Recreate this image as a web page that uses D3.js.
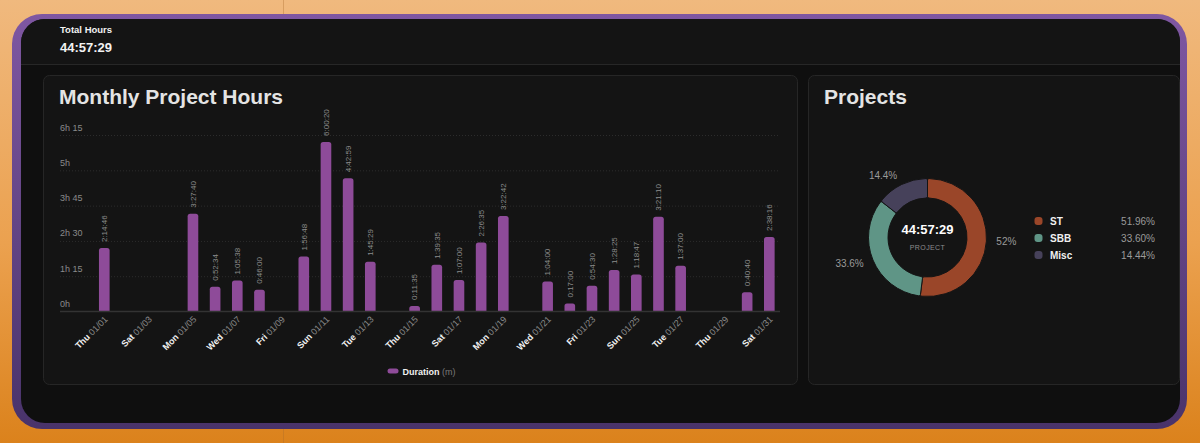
<!DOCTYPE html>
<html>
<head>
<meta charset="utf-8">
<script src="https://cdn.jsdelivr.net/npm/d3@7"></script>
<style>
  html, body { margin: 0; padding: 0; background: #e9a458; }
  svg { display: block; font-family: "Liberation Sans", Arial, sans-serif; }
</style>
</head>
<body>
<div id="chart"></div>
<script>

// data

let days = ["01/01","01/02","01/03","01/04","01/05","01/06","01/07","01/08","01/09","01/10",
  "01/11","01/12","01/13","01/14","01/15","01/16","01/17","01/18","01/19","01/20",
  "01/21","01/22","01/23","01/24","01/25","01/26","01/27","01/28","01/29","01/30","01/31"];

let weekdays = ["Thu","Fri","Sat","Sun","Mon","Tue","Wed","Thu","Fri","Sat",
  "Sun","Mon","Tue","Wed","Thu","Fri","Sat","Sun","Mon","Tue",
  "Wed","Thu","Fri","Sat","Sun","Mon","Tue","Wed","Thu","Fri","Sat"];

// duration per day (h:mm:ss), null = no bar
let durations = ["2:14:46", null, null, null, "3:27:40", "0:52:34", "1:05:38", "0:46:00", null, "1:56:48",
  "6:00:20", "4:42:59", "1:45:29", null, "0:11:35", "1:39:35", "1:07:00", "2:26:35", "3:22:42", null,
  "1:04:00", "0:17:00", "0:54:30", "1:28:25", "1:18:47", "3:21:10", "1:37:00", null, null, "0:40:40", "2:38:16"];

let yTicks = [0, 75, 150, 225, 300, 375];
let yTickLabels = ["0h", "1h 15", "2h 30", "3h 45", "5h", "6h 15"];

let projects = ["ST", "SBB", "Misc"];
let projectShares = [51.96, 33.60, 14.44];
let projectLabels = ["52%", "33.6%", "14.4%"];
let projectColors = ["#9a4629", "#5f9586", "#46415a"];

let totalHours = "44:57:29";

// helpers

function toMinutes(s) {
  let p = s.split(":").map(Number);
  return p[0] * 60 + p[1] + p[2] / 60;
}

let bars = days.map((d, i) => ({ day: d, wd: weekdays[i], label: durations[i],
  minutes: durations[i] ? toMinutes(durations[i]) : null }));

let W = 1200, H = 443;

let svg = d3.select("#chart")
  .append("svg")
    .attr("width", W)
    .attr("height", H);

let defs = svg.append("defs");

let bg = defs.append("linearGradient").attr("id", "bg").attr("x1", 0).attr("y1", 0).attr("x2", 0).attr("y2", 1);
bg.append("stop").attr("offset", "0%").attr("stop-color", "#f0b97e");
bg.append("stop").attr("offset", "55%").attr("stop-color", "#eba14f");
bg.append("stop").attr("offset", "100%").attr("stop-color", "#db821c");

let frame = defs.append("linearGradient").attr("id", "frame").attr("x1", 0).attr("y1", 0).attr("x2", 0).attr("y2", 1);
frame.append("stop").attr("offset", "0%").attr("stop-color", "#7f57a2");
frame.append("stop").attr("offset", "100%").attr("stop-color", "#49336a");

// page background

svg.append("rect").attr("width", W).attr("height", H).attr("fill", "url(#bg)");
svg.append("line")
  .attr("x1", 283.5).attr("x2", 283.5).attr("y1", 0).attr("y2", H)
  .attr("stroke", "#a86a2a").attr("stroke-opacity", 0.35);

// purple frame and dark panel

svg.append("rect")
  .attr("x", 12).attr("y", 14).attr("width", 1175).attr("height", 415)
  .attr("rx", 30).attr("fill", "url(#frame)");

svg.append("rect")
  .attr("x", 21).attr("y", 19).attr("width", 1159).attr("height", 404)
  .attr("rx", 24).attr("fill", "#0f0f0f");

svg.append("path")
  .attr("d", "M21,64 V43 A24,24 0 0 1 45,19 H1158 A22,22 0 0 1 1180,41 V64 Z")
  .attr("fill", "#141414");

svg.append("line")
  .attr("x1", 21).attr("x2", 1180).attr("y1", 64.5).attr("y2", 64.5)
  .attr("stroke", "#272727");

// header

svg.append("text")
  .attr("x", 60).attr("y", 32.5)
  .style("font-size", "9.5px").style("font-weight", "bold")
  .attr("fill", "#f2f2f2")
  .text("Total Hours");

svg.append("text")
  .attr("x", 60).attr("y", 51.5)
  .style("font-size", "13px").style("font-weight", "bold")
  .attr("fill", "#f2f2f2")
  .text(totalHours);

// cards

svg.append("rect")
  .attr("x", 43.5).attr("y", 75.5).attr("width", 754).attr("height", 309)
  .attr("rx", 6).attr("fill", "#141414").attr("stroke", "#262626");

svg.append("rect")
  .attr("x", 808.5).attr("y", 75.5).attr("width", 371).attr("height", 309)
  .attr("rx", 6).attr("fill", "#141414").attr("stroke", "#262626");

svg.append("text")
  .attr("x", 59).attr("y", 104)
  .style("font-size", "21px").style("font-weight", "bold")
  .attr("fill", "#e4e4e4")
  .text("Monthly Project Hours");

svg.append("text")
  .attr("x", 824).attr("y", 104)
  .style("font-size", "21px").style("font-weight", "bold")
  .attr("fill", "#e4e4e4")
  .text("Projects");

// ---- bar chart ----

let x = d3.scaleBand()
  .domain(days)
  .range([93.2, 780.4])
  .paddingInner(0.52)
  .paddingOuter(0.26);

let y = d3.scaleLinear()
  .domain([0, 375])
  .range([311.5, 135]);

// grid lines (dotted)

svg.selectAll(".ygrid")
  .data(yTicks.slice(1))
  .join("line")
  .attr("class", "ygrid")
  .attr("x1", 60).attr("x2", 780)
  .attr("y1", d => y(d) + 0.5).attr("y2", d => y(d) + 0.5)
  .attr("stroke", "#2c2c2c")
  .attr("stroke-dasharray", "1,2");

// y axis labels sit above their line

let yAxis = svg.append("g")
  .attr("transform", "translate(60,0)")
  .call(d3.axisRight(y)
    .tickValues(yTicks)
    .tickSize(0)
    .tickPadding(0)
    .tickFormat((d, i) => yTickLabels[i]));

yAxis.select(".domain").remove();
yAxis.selectAll(".tick text")
  .attr("dy", "-5")
  .attr("fill", "#8a8a8a")
  .style("font-size", "9px")
  .style("font-family", "'Liberation Sans', Arial, sans-serif");

// bars

let barData = bars.filter(d => d.minutes != null);

svg.selectAll(".bar")
  .data(barData)
  .join("path")
  .attr("class", "bar")
  .attr("fill", "#8e4b99")
  .attr("d", d => {
    let x0 = x(d.day), w = x.bandwidth(), y0 = y(d.minutes), y1 = y(0);
    let r = Math.min(2.5, (y1 - y0) / 2);
    return `M${x0},${y1} V${y0 + r} Q${x0},${y0} ${x0 + r},${y0} H${x0 + w - r} Q${x0 + w},${y0} ${x0 + w},${y0 + r} V${y1} Z`;
  });

// value labels, rotated

svg.selectAll(".val")
  .data(barData)
  .join("text")
  .attr("class", "val")
  .attr("transform", d => `translate(${x(d.day) + x.bandwidth() / 2},${y(d.minutes) - 6}) rotate(-90)`)
  .attr("dy", "0.35em")
  .attr("text-anchor", "start")
  .attr("fill", "#8c8c8c")
  .style("font-size", "8px")
  .text(d => d.label);

// x axis line

svg.append("line")
  .attr("x1", 60).attr("x2", 780)
  .attr("y1", 311.5).attr("y2", 311.5)
  .attr("stroke", "#333")
  .attr("stroke-width", 1.5);

// x labels, every second day

let xLabels = svg.selectAll(".xl")
  .data(bars.filter((d, i) => i % 2 === 0))
  .join("text")
  .attr("class", "xl")
  .attr("transform", d => `translate(${x(d.day) + x.bandwidth() / 2 + 4},${320}) rotate(-45)`)
  .attr("text-anchor", "end")
  .style("font-size", "9px");

xLabels.append("tspan")
  .attr("fill", "#f0f0f0")
  .style("font-weight", "bold")
  .text(d => d.wd);

xLabels.append("tspan")
  .attr("fill", "#8a8a8a")
  .text(d => " " + d.day);

// legend

svg.append("rect")
  .attr("x", 387.5).attr("y", 368.5).attr("width", 11).attr("height", 5)
  .attr("rx", 2.5).attr("fill", "#8e4b99");

let leg = svg.append("text")
  .attr("x", 402.5).attr("y", 374.5)
  .style("font-size", "9px");
leg.append("tspan").attr("fill", "#f0f0f0").style("font-weight", "bold").text("Duration");
leg.append("tspan").attr("fill", "#7a7a7a").text(" (m)");

// ---- donut ----

let cx = 927.5, cy = 237.5;
let rOuter = 59, rInner = 39.5;

let pieData = d3.pie()
  .sort(null)
  .value(d => d.share)(projects.map((p, i) => ({ name: p, share: projectShares[i], label: projectLabels[i], color: projectColors[i] })));

let arc = d3.arc().innerRadius(rInner).outerRadius(rOuter).cornerRadius(1.5);

let donut = svg.append("g").attr("transform", `translate(${cx},${cy})`);

donut.selectAll("path")
  .data(pieData)
  .join("path")
  .attr("d", arc)
  .attr("fill", d => d.data.color)
  .attr("stroke", "#141414")
  .attr("stroke-width", 1);

// outside percentage labels

donut.selectAll(".plabel")
  .data(pieData)
  .join("text")
  .attr("class", "plabel")
  .each(function (d) {
    let a = (d.startAngle + d.endAngle) / 2;
    let r = 69;
    d3.select(this)
      .attr("x", Math.sin(a) * r)
      .attr("y", -Math.cos(a) * r)
      .attr("text-anchor", a > Math.PI ? "end" : "start");
  })
  .attr("dy", "0.35em")
  .attr("fill", "#9a9a9a")
  .style("font-size", "10px")
  .text(d => d.data.label);

donut.append("text")
  .attr("y", -4)
  .attr("text-anchor", "middle")
  .attr("fill", "#ffffff")
  .style("font-size", "13px")
  .style("font-weight", "bold")
  .text(totalHours);

donut.append("text")
  .attr("y", 12)
  .attr("text-anchor", "middle")
  .attr("fill", "#8c8c8c")
  .style("font-size", "7px")
  .style("letter-spacing", "0.4px")
  .text("PROJECT");

// donut legend

let legendRows = svg.selectAll(".prow")
  .data(pieData)
  .join("g")
  .attr("class", "prow")
  .attr("transform", (d, i) => `translate(1038.5,${221 + i * 17})`);

legendRows.append("rect")
  .attr("x", -4).attr("y", -4).attr("width", 8).attr("height", 8)
  .attr("rx", 3)
  .attr("fill", d => d.data.color);

legendRows.append("text")
  .attr("x", 11.5).attr("dy", "0.35em")
  .attr("fill", "#f0f0f0")
  .style("font-size", "10px")
  .style("font-weight", "bold")
  .text(d => d.data.name);

legendRows.append("text")
  .attr("x", 116.5).attr("dy", "0.35em")
  .attr("text-anchor", "end")
  .attr("fill", "#9a9a9a")
  .style("font-size", "10px")
  .text(d => d.data.share.toFixed(2) + "%");

</script>
</body>
</html>
